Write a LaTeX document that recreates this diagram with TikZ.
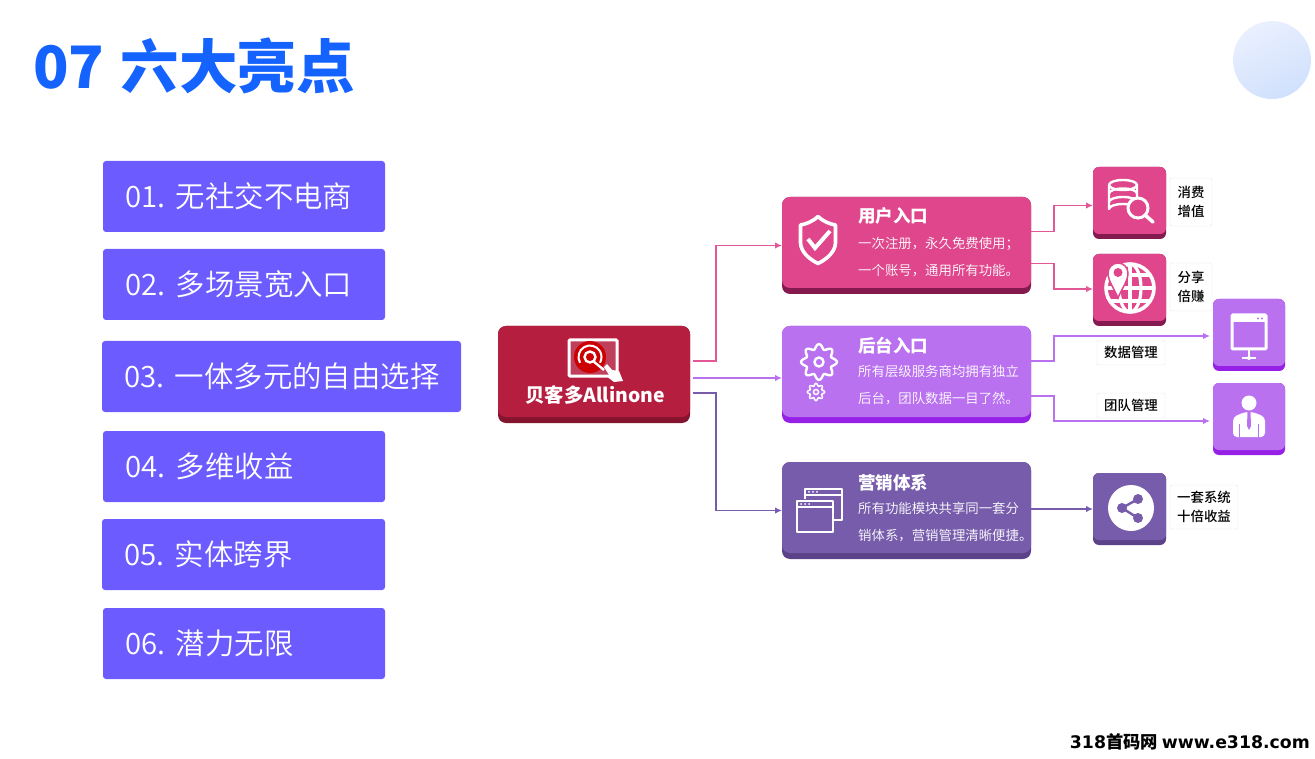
\documentclass[tikz,border=0pt]{standalone}
\usepackage{fontspec}
\setmainfont{Noto Sans CJK SC}
\newfontfamily\lightcjk[UprightFont=* DemiLight]{Noto Sans CJK SC}
\newfontfamily\mediumcjk[UprightFont=* Medium]{Noto Sans CJK SC}
\newfontfamily\latinbold[BoldFont=DejaVu Sans Bold]{DejaVu Sans}
\usetikzlibrary{arrows.meta}
\definecolor{titleblue}{HTML}{1463FF}
\definecolor{listblue}{HTML}{6C5CFF}
\definecolor{discfrom}{HTML}{EAF0FE}
\definecolor{discto}{HTML}{D0E0FD}
\definecolor{redface}{HTML}{B51E3F}
\definecolor{redbase}{HTML}{85142E}
\definecolor{pinkface}{HTML}{DF468C}
\definecolor{pinkbase}{HTML}{851A4F}
\definecolor{lilacface}{HTML}{BA71F0}
\definecolor{lilacbase}{HTML}{9620E6}
\definecolor{violetface}{HTML}{775CAC}
\definecolor{violetbase}{HTML}{5C4288}
\tikzset{
  listbox/.style={fill=listblue,text=white,rounded corners=3pt,anchor=north west,align=left,
    minimum height=71pt,inner ysep=0pt,inner xsep=22pt,outer sep=0pt,font=\fontsize{29.4}{30}\lightcjk},
  cardbox/.style={rounded corners=8pt,anchor=north west,minimum width=249pt,minimum height=97pt,outer sep=0pt,inner sep=0pt},
  iconbox/.style={rounded corners=6pt,anchor=north west,minimum width=73pt,minimum height=72pt,outer sep=0pt,inner sep=0pt},
  cardtitle/.style={anchor=west,text=white,inner sep=0pt,font=\fontsize{17.5}{20}\selectfont\bfseries},
  cardtext/.style={anchor=west,text=white,inner sep=0pt,align=left,font=\fontsize{13.4}{27}\lightcjk},
  tagbox/.style={draw=black!10,fill=white,rounded corners=2pt,inner sep=0pt,align=center,
    font=\fontsize{13.4}{19}\mediumcjk},
  wire/.style={line width=1.5pt,-{Latex[length=7pt,width=6.5pt]}},
  glyph/.style={white,line width=2.4pt,line join=round,line cap=round}
}
\begin{document}
\begin{tikzpicture}[x=1pt,y=-1pt]
\useasboundingbox (0,0) rectangle (1315,759);
% heading and corner disc
\node[anchor=west,inner sep=0pt,text=titleblue,font=\fontsize{58.5}{60}\selectfont\bfseries] (heading) at (33,66) {07\hspace{3pt} 六大亮点};
\shade[top color=discfrom,bottom color=discto,shading angle=25] (1272,60) circle (39);
% left list
\foreach \i/\xx/\yy/\boxw/\txt in {1/103/161/238/无社交不电商,2/103/249/238/多场景宽入口,3/102/341/315/一体多元的自由选择,
  4/103/431/238/多维收益,5/102/519/239/实体跨界,6/103/608/238/潜力无限}
  \node[listbox,text width=\boxw pt] (list\i) at (\xx,\yy) {\makebox[51pt][l]{0\i.}\txt};
% cards
\node[cardbox,fill=redbase,minimum width=192pt] (main) at (498,326) {};
\node[cardbox,fill=pinkbase] (user) at (782,197) {};
\node[cardbox,fill=lilacbase] (admin) at (782,326) {};
\node[cardbox,fill=violetbase] (market) at (782,462) {};
\node[iconbox,fill=pinkbase] (dbicon) at (1093,167) {};
\node[iconbox,fill=pinkbase] (globeicon) at (1093,254) {};
\node[iconbox,fill=lilacbase,minimum width=72pt] (screenicon) at (1213,299) {};
\node[iconbox,fill=lilacbase,minimum width=72pt] (staffpic) at (1213,383) {};
\node[iconbox,fill=violetbase] (shareicon) at (1093,473) {};
\foreach \nm/\col in {main/redface,user/pinkface,admin/lilacface,market/violetface}
  \fill[\col,rounded corners=8pt] (\nm.north west) rectangle ([yshift=6pt]\nm.south east);
\foreach \nm/\col in {dbicon/pinkface,globeicon/pinkface,screenicon/lilacface,staffpic/lilacface,shareicon/violetface}
  \fill[\col,rounded corners=6pt] (\nm.north west) rectangle ([yshift=5pt]\nm.south east);
% connectors
\draw[wire,pinkface!90!white] ([shift={(3,-13.5)}]main.east) -- ++(23,0) |- (user.west);
\draw[wire,lilacface] ([shift={(3,3.5)}]main.east) -- ([yshift=-3.5pt]admin.west);
\draw[wire,violetface] ([shift={(3,18.5)}]main.east) -- ++(23,0) |- (market.west);
\draw[wire,pinkface!90!white] ([yshift=14pt]user.east) -- ++(23,0) |- ([yshift=-2.5pt]dbicon.west);
\draw[wire,pinkface!90!white] ([yshift=-18pt]user.east) -- ++(23,0) |- ([yshift=1pt]globeicon.west);
\draw[wire,lilacface] ([yshift=13.5pt]admin.east) -- ++(23,0) |- ([xshift=-3pt,yshift=-1pt]screenicon.west);
\draw[wire,lilacface] ([yshift=-21.5pt]admin.east) -- ++(23,0) |- ([xshift=-3pt,yshift=-2pt]staffpic.west);
\draw[wire,violetface] (market.east |- shareicon.west) -- (shareicon.west);
% card texts
\node[anchor=center,inner sep=0pt,text=white,font=\fontsize{19.4}{22}\selectfont\bfseries] (maintitle) at (595,395) {贝客多Allinone};
\node[cardtitle] (usertitle) at (858,216) {用户入口};
\node[cardtext] (usertext) at (858,257.5) {一次注册，永久免费使用；\\一个账号，通用所有功能。};
\node[cardtitle] (admintitle) at (858,346) {后台入口};
\node[cardtext] (admintext) at (858,385.5) {所有层级服务商均拥有独立\\后台，团队数据一目了然。};
\node[cardtitle] (markettitle) at (858,483) {营销体系};
\node[cardtext] (markettext) at (858,522) {所有功能模块共享同一套分\\销体系，营销管理清晰便捷。};
% tags
\node[tagbox,minimum width=42pt,minimum height=48pt] (tagspend) at (1191,202) {消费\\增值};
\node[tagbox,minimum width=42pt,minimum height=48pt] (tagshare) at (1191,287) {分享\\倍赚};
\node[tagbox,minimum width=68pt,minimum height=25pt] (tagdata) at (1131,352.5) {数据管理};
\node[tagbox,minimum width=68pt,minimum height=25pt] (tagteam) at (1131,405.5) {团队管理};
\node[tagbox,minimum width=68pt,minimum height=44pt] (tagsystem) at (1204,507) {一套系统\\十倍收益};
% logo
\draw[white,fill=redface!85!white,line width=3pt,rounded corners=1pt] (569,340) rectangle (617,376);
\fill[red!80!black] (590,357) circle (16);
\draw[white,line width=2pt] (590,357) ++(150:11.5) arc (150:390:11.5);
\draw[white,line width=2.4pt] (590,357) circle (5.5);
\draw[white,line width=2.4pt] (593,361) -- (604,370);
\fill[white] (604,367) -- (607,364) -- (612,370) -- (619,371) -- (623,381) -- (614,382) -- (606,376) -- (609,375) -- cycle;
% shield
\draw[glyph,line width=3.6pt,line cap=butt] (818,216.5) .. controls (812,222) and (806,224) .. (800.5,225) -- (800.5,243)
  .. controls (801,252) and (809,259) .. (818,263.5) .. controls (827,259) and (835,252) .. (835.5,243) -- (835.5,225)
  .. controls (830,224) and (824,222) .. (818,216.5) -- cycle;
\draw[glyph,line width=4pt,line cap=butt,line join=miter] (808,239) -- (815,248) -- (830,231);
% gears
\draw[glyph,shift={(819,362)}] plot[domain=0:360,samples=145,smooth] (\x:{15.5+2.4*cos(8*\x)});
\draw[white,line width=2.4pt] (819,362) circle (4.5);
\draw[glyph,line width=1.5pt,shift={(816,392)}] plot[domain=0:360,samples=145,smooth] (\x:{7.4+1.2*cos(8*\x)});
\draw[white,line width=1.5pt] (816,392) circle (2.5);
% database and lens
\draw[glyph,line width=2.4pt] (1109,185) arc (180:-180:14 and 5);
\draw[glyph,line width=2.4pt] (1109,185) -- (1109,209) arc (180:0:14 and -5) -- (1137,185);
\draw[glyph,line width=2.4pt] (1109,193.5) arc (180:0:14 and -5);
\draw[glyph,line width=2.4pt] (1109,202) arc (180:0:14 and -5);
\draw[white,line width=3pt,fill=pinkface] (1138,208) circle (10);
\draw[glyph,line width=3.6pt] (1145,215) -- (1153,222);
% globe and pin
\draw[white,line width=3.6pt] (1130,288) circle (24);
\draw[white,line width=3.2pt] (1130,288) ellipse (11 and 24);
\draw[white,line width=3.2pt] (1130,264) -- (1130,312);
\draw[white,line width=3.2pt] (1106,288) -- (1154,288);
\draw[white,line width=3.2pt] (1110,275) -- (1150,275);
\draw[white,line width=3.2pt] (1110,301) -- (1150,301);
\draw[pinkface,line width=1.5pt,fill=white] (1118,298) .. controls (1114,288) and (1108,281) .. (1108,273)
  arc (180:0:10 and -10) .. controls (1128,281) and (1122,288) .. (1118,298) -- cycle;
\fill[pinkface] (1118,272.5) circle (4.5);
% screen
\draw[white,line width=3pt,rounded corners=1pt] (1232,315) rectangle (1266,349);
\fill[white] (1232,315) rectangle (1266,322);
\fill[lilacface] (1258,318.5) circle (1.2) (1262,318.5) circle (1.2);
\draw[white,line width=1.4pt] (1249,349) -- (1249,358) (1242,358) -- (1256,358);
\fill[white] (1249,358) circle (2);
% staff figure
\fill[white] (1249,403) circle (7.5);
\fill[white,rounded corners=4pt] (1233,437) -- (1233,417) -- (1245,412) -- (1253,412) -- (1265,417) -- (1265,437) -- cycle;
\draw[lilacface,line width=1.2pt] (1239.5,424) -- (1239.5,437) (1258.5,424) -- (1258.5,437);
\fill[lilacface] (1247.5,412) -- (1250.5,412) -- (1251,426) -- (1249,430) -- (1247,426) -- cycle;
% stacked windows
\draw[glyph,line width=2pt,line cap=butt] (805,499) -- (805,489) -- (842,489) -- (842,520) -- (834,520);
\draw[glyph,line width=2pt,line cap=butt] (797,501) rectangle (833,532);
\draw[glyph,line width=2pt,line cap=butt] (797,507) -- (833,507);
\draw[glyph,line width=2pt,line cap=butt] (805,494.5) -- (842,494.5);
\fill[white] (801,504) circle (1) (805,504) circle (1) (809,504) circle (1);
\fill[white] (809,491.8) circle (1) (813,491.8) circle (1) (817,491.8) circle (1);
% share
\fill[white] (1131,508) circle (23);
\draw[violetface,line width=2.4pt] (1138,499) -- (1122,508) -- (1138,518);
\fill[violetface] (1138,499) circle (5) (1122,508) circle (5) (1138,518) circle (5);
% footer
\node[anchor=east,inner sep=0pt,font=\fontsize{17.3}{20}\selectfont] (footer) at (1310,742) {{\latinbold\bfseries 318}{\bfseries 首码网} {\latinbold\bfseries www.e318.com}};
\end{tikzpicture}
\end{document}
